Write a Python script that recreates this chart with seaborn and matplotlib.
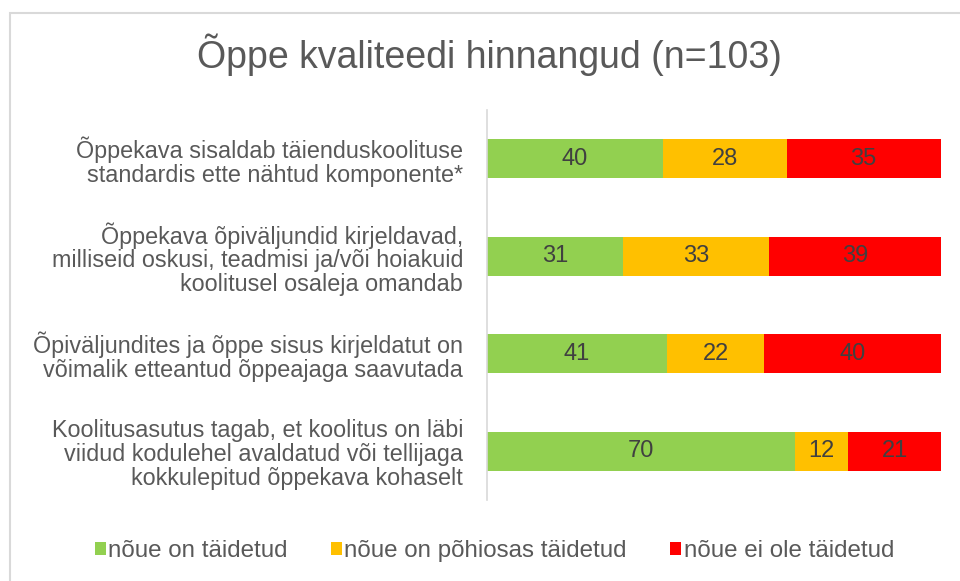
import numpy as np
import pandas as pd
import matplotlib.pyplot as plt
import seaborn as sns
from matplotlib.patches import Patch, Rectangle

# Data
categories = [
    "Õppekava sisaldab täienduskoolituse\nstandardis ette nähtud komponente*",
    "Õppekava õpiväljundid kirjeldavad,\nmilliseid oskusi, teadmisi ja/või hoiakuid\nkoolitusel osaleja omandab",
    "Õpiväljundites ja õppe sisus kirjeldatut on\nvõimalik etteantud õppeajaga saavutada",
    "Koolitusasutus tagab, et koolitus on läbi\nviidud kodulehel avaldatud või tellijaga\nkokkulepitud õppekava kohaselt",
]
taidetud = [40, 31, 41, 70]
pohiosas = [28, 33, 22, 12]
ei_ole = [35, 39, 40, 21]
series_names = ["nõue on täidetud", "nõue on põhiosas täidetud", "nõue ei ole täidetud"]
colors = ["#92D050", "#FFC000", "#FF0000"]

df = pd.DataFrame({"cat": categories, "g": taidetud, "o": pohiosas, "r": ei_ole})
df["c1"] = df["g"]
df["c2"] = df["g"] + df["o"]
df["c3"] = df["c2"] + df["r"]

sns.set_style("white")
plt.rcParams["font.family"] = ["Liberation Sans", "DejaVu Sans"]

fig = plt.figure(figsize=(9.6, 5.81), dpi=100)
ax = fig.add_axes([0.507, 0.139, 0.473, 0.672])

# Stacked bars drawn as cumulative overlays
for col, color in [("c3", colors[2]), ("c2", colors[1]), ("c1", colors[0])]:
    sns.barplot(data=df, y="cat", x=col, color=color, orient="h", width=0.4,
                saturation=1, ax=ax, edgecolor="none", linewidth=0)

# Value labels
for i, row in df.iterrows():
    starts = [0, row["c1"], row["c2"]]
    for s, v in zip(starts, [row["g"], row["o"], row["r"]]):
        ax.text(s + v / 2, i, str(v), ha="center", va="center",
                fontsize=17, color="#404040")

ax.set_xlim(0, 103)
ax.set_ylim(3.5, -0.5)
ax.set_xlabel("")
ax.set_ylabel("")
ax.set_xticks([])
ax.tick_params(axis="y", length=0, pad=17)
ax.set_yticks(range(len(categories)))
ax.set_yticklabels(categories, fontsize=16.8, color="#595959", linespacing=1.05, ha="right")
for s in ["top", "right", "bottom"]:
    ax.spines[s].set_visible(False)
ax.spines["left"].set_color("#D9D9D9")
ax.spines["left"].set_linewidth(1.2)

fig.text(0.51, 0.905, "Õppe kvaliteedi hinnangud (n=103)", ha="center", va="center",
         fontsize=27, color="#595959")

handles = [Patch(facecolor=c, edgecolor="none") for c in colors]
fig.legend(handles, series_names, loc="center", bbox_to_anchor=(0.515, 0.052), ncol=3,
           frameon=False, fontsize=17.4, labelcolor="#595959", handlelength=0.45,
           handleheight=0.45, handletextpad=0.1, columnspacing=1.8)

# chart border
fig.patches.append(Rectangle((0.0104, -0.1), 1.1, 1.1 - 0.0224, transform=fig.transFigure,
                             fill=False, edgecolor="#D9D9D9", linewidth=1.5))

fig.savefig("out.png", dpi=100)
